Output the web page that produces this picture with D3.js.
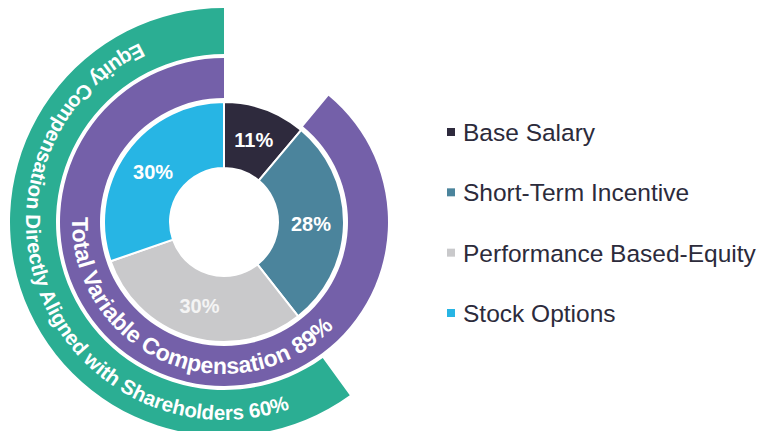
<!DOCTYPE html>
<html>
<head>
<meta charset="utf-8">
<script src="https://cdn.jsdelivr.net/npm/d3@7"></script>
<style>
  html, body { margin: 0; padding: 0; background: #ffffff; }
  svg { display: block; font-family: "Liberation Sans", Arial, Helvetica, sans-serif; }
</style>
</head>
<body>
<svg id="chart" width="762" height="431"></svg>
<script>
// Pay mix: inner donut slices
const categories = ["Base Salary", "Short-Term Incentive", "Performance Based-Equity", "Stock Options"];
const values = [11, 28, 30, 30];
const sliceColors = ["#2e2a3d", "#4b849c", "#c9c9cb", "#27b5e4"];
const sliceLabelColors = ["#ffffff", "#ffffff", "#f4f4f4", "#ffffff"];

// Outer bands: share of pay that ends at the top of the circle
const ringNames = ["Total Variable Compensation", "Equity Compensation Directly Aligned with Shareholders"];
const ringValues = [89, 60];
const ringColors = ["#7460a9", "#2bae93"];

const svg = d3.select("#chart");
const cx = 224, cy = 222;
const TAU = Math.PI * 2;

const g = svg.append("g").attr("transform", `translate(${cx},${cy})`);

// ---- inner donut ----
const pie = d3.pie().value(d => d).sort(null);
const arcs = pie(values);
const innerArc = d3.arc().innerRadius(54).outerRadius(120);

g.selectAll("path.slice")
  .data(arcs)
  .join("path")
  .attr("class", "slice")
  .attr("d", innerArc)
  .attr("fill", (d, i) => sliceColors[i])
  .attr("stroke", "#ffffff")
  .attr("stroke-width", 2);

g.selectAll("text.slice-label")
  .data(arcs)
  .join("text")
  .attr("class", "slice-label")
  .attr("transform", d => `translate(${innerArc.centroid(d)})`)
  .attr("text-anchor", "middle")
  .attr("dy", "0.36em")
  .attr("font-size", 20)
  .attr("font-weight", "bold")
  .attr("fill", (d, i) => sliceLabelColors[i])
  .text(d => d.data + "%");

// ---- outer bands ----
const bandRadii = [[124, 164], [168, 214]];
const bandFont = [23, 20.5];
const bandBaseline = [152, 198];
const bandTextMid = [202.8, 247.7]; // degrees clockwise from 12 o'clock

const angleScale = d3.scaleLinear().domain([0, 100]).range([TAU, 0]);

ringValues.forEach((v, i) => {
  const a = d3.arc()
    .innerRadius(bandRadii[i][0])
    .outerRadius(bandRadii[i][1])
    .startAngle(angleScale(v))
    .endAngle(TAU);
  g.append("path")
    .attr("d", a())
    .attr("fill", ringColors[i]);

  // counter-clockwise guide path for the curved caption
  const mid = bandTextMid[i] * Math.PI / 180 - Math.PI / 2;
  const p = d3.path();
  p.arc(0, 0, bandBaseline[i], mid + Math.PI * 0.99, mid - Math.PI * 0.99, true);
  const id = "band-path-" + i;
  g.append("path").attr("id", id).attr("d", p.toString()).attr("fill", "none");

  g.append("text")
    .attr("font-size", bandFont[i])
    .attr("font-weight", "bold")
    .attr("fill", "#ffffff")
    .append("textPath")
    .attr("href", "#" + id)
    .attr("startOffset", "50%")
    .attr("text-anchor", "middle")
    .text(ringNames[i] + " " + v + "%");
});

// ---- legend ----
const rowY = d3.scaleLinear().domain([0, categories.length - 1]).range([141, 322]);
const legend = svg.append("g");
categories.forEach((c, i) => {
  legend.append("rect")
    .attr("x", 447).attr("y", rowY(i) - 13)
    .attr("width", 8).attr("height", 8)
    .attr("fill", sliceColors[i]);
  legend.append("text")
    .attr("x", 463).attr("y", rowY(i))
    .attr("font-size", 24.5)
    .attr("fill", "#2c2b3b")
    .text(c);
});
</script>
</body>
</html>
